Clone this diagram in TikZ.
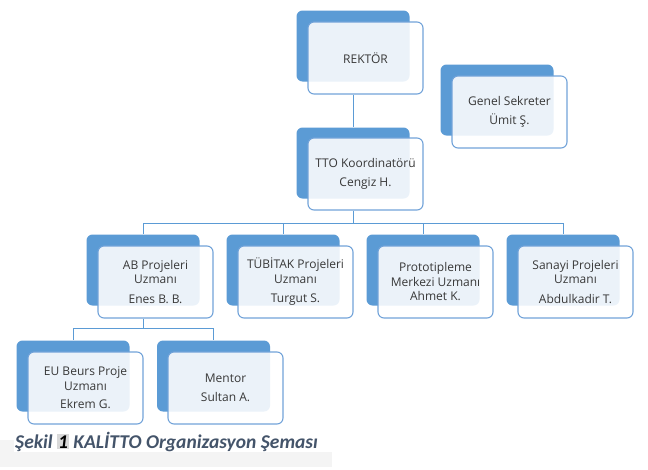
\documentclass[tikz,border=0pt]{standalone}
\usepackage{xcolor}
\usepackage{tikz}
\usepackage{fontspec}
\setmainfont{Open Sans}
\newfontfamily\capfont{Carlito}
\definecolor{kutumavi}{HTML}{5B9BD5}
\definecolor{kenarmavi}{HTML}{72A3D9}
\definecolor{yazigri}{HTML}{383838}
\definecolor{baslikrenk}{HTML}{44546A}
\definecolor{vurgu}{HTML}{D9D9D9}
\definecolor{zemin}{HTML}{F4F4F4}

\begin{document}
\begin{tikzpicture}[x=1pt,y=-1pt,
arka/.style={fill=kutumavi,rounded corners=6pt,minimum width=113pt,minimum height=71pt,inner sep=0pt},
on/.style={draw=kenarmavi,line width=1.1pt,fill=white,fill opacity=.88,text opacity=1,rounded corners=6pt,%
minimum width=115pt,minimum height=72pt,inner sep=0pt,align=center,font=\fontsize{12}{14.5}\selectfont,text=yazigri},
hat/.style={draw=kutumavi,line width=.8pt}]
\useasboundingbox (0,0) rectangle (648,469);
\fill[white] (0,0) rectangle (648,469);
\fill[zemin] (0,452) rectangle (332,467);
\fill[zemin] (0,440) rectangle (14,452);

% arka kutular
\node[arka] (rektorb) at (353,46) {};
\node[arka] (genelb) at (497,100) {};
\node[arka] (ttob) at (353,163) {};
\node[arka] (abb) at (143,270) {};
\node[arka] (tubitakb) at (283,270) {};
\node[arka] (protob) at (423,270) {};
\node[arka] (sanayib) at (563,270) {};
\node[arka] (eub) at (73,376) {};
\node[arka] (mentorb) at (213.5,376) {};

% on kutular
\node[on] (rektor) at (365.5,58) {REKTÖR};
\node[on] (genel) at (509.5,112) {Genel Sekreter\\[5pt]Ümit Ş.};
\node[on] (tto) at (365.5,174) {TTO Koordinatörü\\[5pt]Cengiz H.};
\node[on] (ab) at (155.5,282) {AB Projeleri\\Uzmanı\\[5pt]Enes B. B.};
\node[on] (tubitak) at (295.5,282) {TÜBİTAK Projeleri\\Uzmanı\\[5pt]Turgut S.};
\node[on] (proto) at (435.5,282) {Prototipleme\\Merkezi Uzmanı\\Ahmet K.};
\node[on] (sanayi) at (575.5,282) {Sanayi Projeleri\\Uzmanı\\[5pt]Abdulkadir T.};
\node[on] (eu) at (85.5,388) {EU Beurs Proje\\Uzmanı\\[4pt]Ekrem G.};
\node[on] (mentor) at (225.5,388) {Mentor\\[5pt]Sultan A.};

\coordinate (bus1) at (353,223);
\coordinate (bus2) at (143,328);
\draw[hat] (rektorb |- rektor.south) -- (ttob.north);
\draw[hat] (ttob |- tto.south) -- (bus1);
\draw[hat] (bus1) -| (abb.north);
\draw[hat] (bus1) -| (tubitakb.north);
\draw[hat] (bus1) -| (protob.north);
\draw[hat] (bus1) -| (sanayib.north);
\draw[hat] (abb |- ab.south) -- (bus2);
\draw[hat] (bus2) -| (eub.north);
\draw[hat] (bus2) -| (mentorb.north);

\node[anchor=base west,inner sep=0pt,text=baslikrenk,font=\capfont\bfseries\itshape\fontsize{19.5}{22}\selectfont] (sekil) at (15,448)
{Şekil {\setlength{\fboxsep}{1pt}\colorbox{vurgu}{\textcolor{black}{1}}} KALİTTO Organizasyon Şeması};
\end{tikzpicture}
\end{document}
